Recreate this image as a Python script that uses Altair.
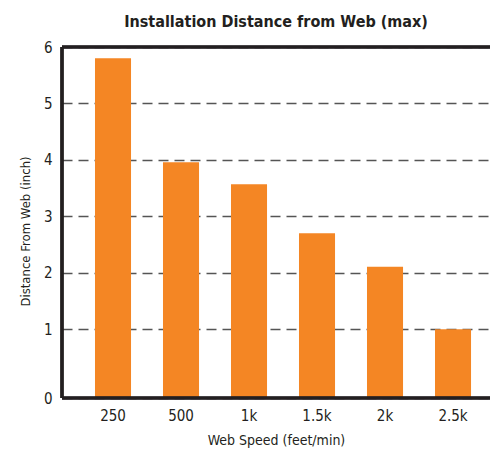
import altair as alt
import pandas as pd

# Data
speeds = ["250", "500", "1k", "1.5k", "2k", "2.5k"]
distances = [5.80, 3.96, 3.57, 2.70, 2.11, 1.00]

# axis bottom (label "0") sits a bit below the linear zero in the reference
Y_MIN = -0.216
Y_MAX = 6
y_ticks = [Y_MIN, 1, 2, 3, 4, 5, 6]

FONT = "DejaVu Sans Condensed, Liberation Sans Narrow, sans-serif"
TEXT = "#231F20"
BAR = "#F48624"

df = pd.DataFrame({"speed": speeds, "dist": distances, "base": [Y_MIN] * len(speeds)})

y_scale = alt.Scale(domain=[Y_MIN, Y_MAX], nice=False, zero=False)
x_scale = alt.Scale(paddingInner=0.47, paddingOuter=0.382, align=0.635)

bars = alt.Chart(df).mark_bar(color=BAR).encode(
    x=alt.X("speed:N", sort=speeds, scale=x_scale,
            axis=alt.Axis(title="Web Speed (feet/min)", labelAngle=0, domain=False,
                          ticks=False, labelPadding=10, labelFontSize=15,
                          labelFont=FONT, labelColor=TEXT, titleFont=FONT,
                          titleFontSize=14, titleFontWeight="normal", titleColor=TEXT,
                          titleY=46, titleBaseline="alphabetic")),
    y=alt.Y("dist:Q", scale=y_scale,
            axis=alt.Axis(title="Distance From Web (inch)", values=y_ticks,
                          labelExpr="datum.value < 0 ? '0' : format(datum.value, 'd')",
                          domain=False, ticks=False, labelPadding=10,
                          labelFontSize=15, labelFont=FONT, labelColor=TEXT,
                          grid=True, gridDash=[10, 6], gridColor="#555555",
                          gridWidth=1.6, titleFont=FONT, titleFontSize=13,
                          titleFontWeight="normal", titleColor=TEXT,
                          titleX=-33, titleY=184, titleBaseline="alphabetic")),
    y2="base:Q",
)

frame_top = alt.Chart(df).mark_rule(color=TEXT, strokeWidth=2.6).encode(
    y=alt.datum(Y_MAX, scale=y_scale))
frame_bottom = alt.Chart(df).mark_rule(color=TEXT, strokeWidth=2.6).encode(
    y=alt.datum(Y_MIN, scale=y_scale))
frame_left = alt.Chart(df).mark_rule(color=TEXT, strokeWidth=2.6).encode(
    x=alt.value(0), y=alt.datum(Y_MAX, scale=y_scale), y2=alt.datum(Y_MIN))

chart = alt.layer(bars, frame_top, frame_bottom, frame_left).properties(
    width=428, height=351,
    title=alt.TitleParams("Installation Distance from Web (max)", font=FONT,
                          fontSize=16, fontWeight="bold", color=TEXT,
                          anchor="middle", offset=10),
    autosize=alt.AutoSizeParams(type="none"),
    padding={"left": 54, "top": 39, "right": 0, "bottom": 50},
).configure_view(stroke=None)

chart.save("out.html", embed_options={"renderer": "svg", "actions": False})
